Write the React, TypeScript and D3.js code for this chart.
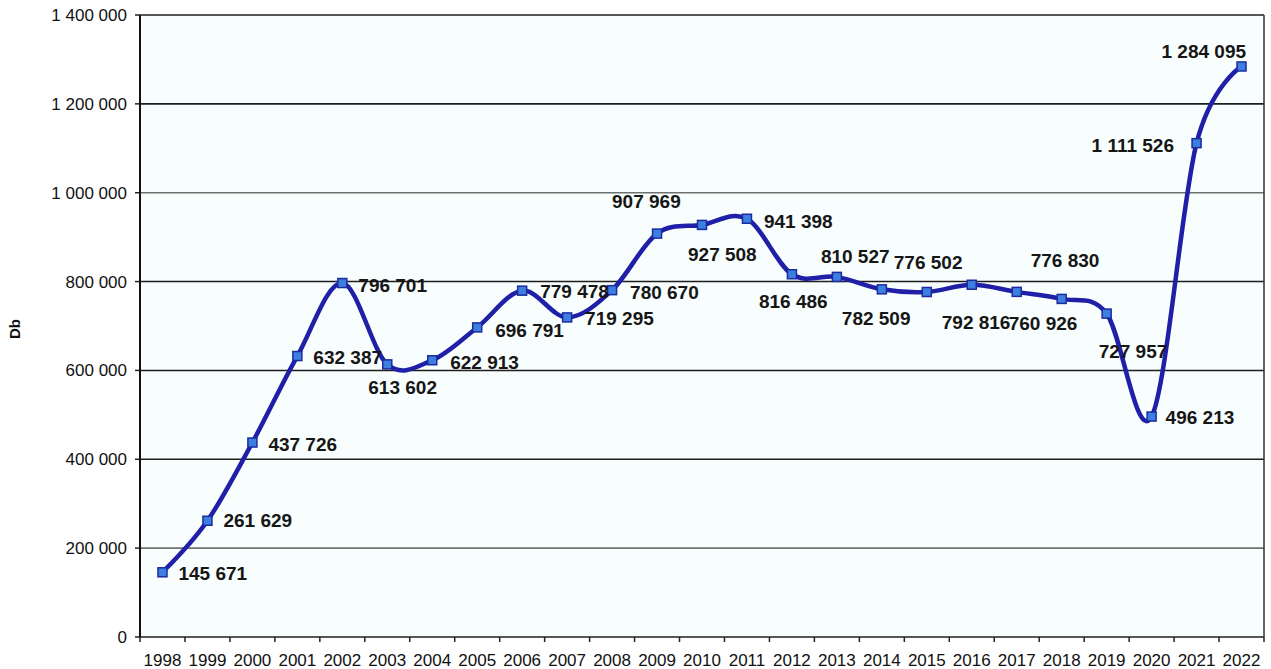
import React from "react";
import * as d3 from "d3";

const years = ["1998","1999","2000","2001","2002","2003","2004","2005","2006","2007","2008","2009","2010","2011","2012","2013","2014","2015","2016","2017","2018","2019","2020","2021","2022"];
const values = [145671,261629,437726,632387,796701,613602,622913,696791,779478,719295,780670,907969,927508,941398,816486,810527,782509,776502,792816,776830,760926,727957,496213,1111526,1284095];
const yTicks = [0,200000,400000,600000,800000,1000000,1200000,1400000];
// label placement relative to each point (dx to text start, dy to text middle)
const labelDx = [16,16,16,16,16,-19,18,18,18,18,18,-45,-14,17,-33,-16,-40,-33,-30,14,-53,-8,14,-105,-80];
const labelDy = [1,0,1.5,1,2,23,2,3,1,1,2,-32,29,3,27,-21,29,-30,38,-32,24,38,1,2,-15];

const W = 1271, H = 669;
const left = 140, right = 1264, top = 15, bottom = 637;

const fmt = (v: number) => d3.format(",")(v).replace(/,/g, " ");

export default function App() {
  const x = d3.scaleBand<string>().domain(years).range([left, right]);
  const y = d3.scaleLinear().domain([0, 1400000]).range([bottom, top]);
  const cx = (i: number) => (x(years[i]) as number) + x.bandwidth() / 2;
  const line = d3.line<number>()
    .x((_, i) => cx(i))
    .y((d) => y(d))
    .curve(d3.curveCardinal.tension(0));
  const path = line(values) || "";
  const font = "'Liberation Sans', Arial, sans-serif";
  return (
    <svg width={W} height={H} style={{ position: "absolute", left: 0, top: 0, background: "#fff" }} fontFamily={font}>
      <rect x={left} y={top} width={right - left} height={bottom - top} fill="#f8fdfd" />
      {yTicks.map((t) => (
        <g key={t}>
          <line x1={left} x2={right} y1={y(t)} y2={y(t)}
            stroke={t === 1000000 || t === 200000 ? "#6f7370" : "#1e1e1e"} strokeWidth={1.6} />
          <line x1={left - 5} x2={left} y1={y(t)} y2={y(t)} stroke="#222" strokeWidth={1.5} />
          <text x={127} y={y(t)} dy="0.35em" textAnchor="end" fontSize={17} fill="#111">{fmt(t)}</text>
        </g>
      ))}
      <line x1={left} x2={left} y1={top} y2={bottom} stroke="#111" strokeWidth={2} />
      <line x1={right} x2={right} y1={top} y2={bottom} stroke="#333" strokeWidth={1.5} />
      {years.map((yr, i) => (
        <g key={yr}>
          <line x1={x(yr) as number} x2={x(yr) as number} y1={bottom} y2={bottom + 5} stroke="#222" strokeWidth={1.5} />
          <text x={cx(i)} y={660} dy="0.35em" textAnchor="middle" fontSize={17} fill="#111">{yr}</text>
        </g>
      ))}
      <line x1={right} x2={right} y1={bottom} y2={bottom + 5} stroke="#222" strokeWidth={1.5} />
      <text transform={`translate(15,329) rotate(-90)`} textAnchor="middle" dy="0.35em" fontSize={15} fontWeight="bold" fill="#111">Db</text>
      <path d={path} fill="none" stroke="#1f1fa8" strokeWidth={4.5} strokeLinejoin="round" />
      {values.map((v, i) => (
        <rect key={i} x={cx(i) - 4.5} y={y(v) - 4.5} width={9} height={9} fill="#3d7fe0" stroke="#1c2b9e" strokeWidth={1.5} />
      ))}
      {values.map((v, i) => (
        <text key={"l" + i} x={cx(i) + labelDx[i]} y={y(v) + labelDy[i]} dy="0.35em" fontSize={19} fontWeight="bold" fill="#161616">{fmt(v)}</text>
      ))}
    </svg>
  );
}
